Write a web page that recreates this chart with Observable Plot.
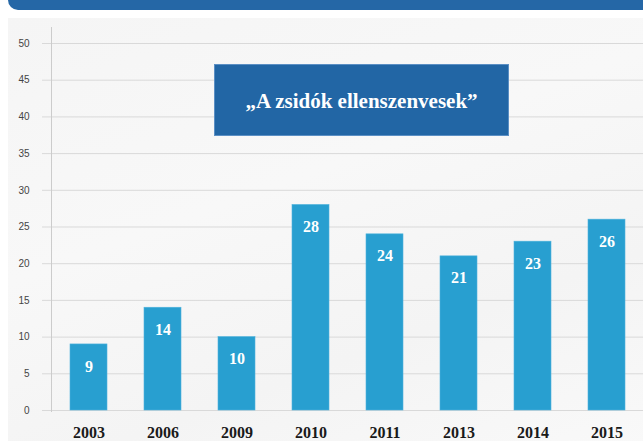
<!DOCTYPE html>
<html>
<head>
<meta charset="utf-8">
<script src="https://cdn.jsdelivr.net/npm/d3@7"></script>
<script src="https://cdn.jsdelivr.net/npm/@observablehq/plot@0.6"></script>
<style>
  html, body { margin: 0; padding: 0; background: #ffffff; }
  #wrap { position: relative; width: 643px; height: 441px; overflow: hidden; }
  #banner { position: absolute; left: 8px; top: -12px; width: 650px; height: 22px; background: #2567a6; border-radius: 10px; }
  #panel { position: absolute; left: 8px; top: 18px; width: 640px; height: 430px;
           background: linear-gradient(160deg, #f5f5f5 0%, #f8f8f8 40%, #f4f4f4 70%, #f9f9f9 100%); }
  #chart { position: absolute; left: 0; top: 0; }
  #title { position: absolute; left: 214px; top: 64px; width: 295px; height: 72px; background: #2266a5;
           border: 1px solid #5b8fc4; box-sizing: border-box; color: #fff;
           font-family: "Liberation Serif", "DejaVu Serif", serif; font-weight: bold; font-size: 21px;
           display: flex; align-items: center; justify-content: center; padding-top: 2px; }
</style>
</head>
<body>
<div id="wrap">
  <div id="banner"></div>
  <div id="panel"></div>
  <div id="chart"></div>
  <div id="title">„A zsidók ellenszenvesek”</div>
</div>
<script>
const years = ["2003", "2006", "2009", "2010", "2011", "2013", "2014", "2015"];
const values = [9, 14, 10, 28, 24, 21, 23, 26];
const yTicks = [0, 5, 10, 15, 20, 25, 30, 35, 40, 45, 50];

const data = years.map((year, i) => ({year, value: values[i]}));
const serif = "'Liberation Serif', 'DejaVu Serif', serif";

const chart = Plot.plot({
  width: 643,
  height: 441,
  marginLeft: 51,
  marginRight: 0,
  marginTop: 27,
  marginBottom: 30,
  style: {background: "transparent", overflow: "visible"},
  x: {domain: years, paddingInner: 0.5, paddingOuter: 0.25, label: null},
  y: {domain: [0, 50], range: [410, 43], label: null},
  marks: [
    Plot.gridY(yTicks, {stroke: "#d9d9d9", strokeOpacity: 1}),
    Plot.axisY(yTicks, {tickSize: 9, tickPadding: 13, stroke: "#d9d9d9", fill: "#444",
      fontSize: 10, fontFamily: "'Liberation Sans', Arial, sans-serif", label: null}),
    Plot.frame({anchor: "left", stroke: "#cccccc"}),
    Plot.barY(data, {x: "year", y: "value", fill: "#289fd0", stroke: "#4fb3dc", strokeWidth: 0.6}),
    Plot.ruleY([0], {stroke: "#b5b5b5", strokeWidth: 1, x1: 42, x2: 643, insetLeft: 0}),
    Plot.text(data, {x: "year", y: "value", text: d => String(d.value), dy: 22, fill: "#ffffff",
      fontSize: 16, fontWeight: "bold", fontFamily: serif}),
    Plot.axisX({tickSize: 0, tickPadding: 15, fill: "#1a1a1a", fontSize: 16, fontWeight: "bold",
      fontFamily: serif, label: null})
  ]
});
document.getElementById("chart").appendChild(chart);
</script>
</body>
</html>
